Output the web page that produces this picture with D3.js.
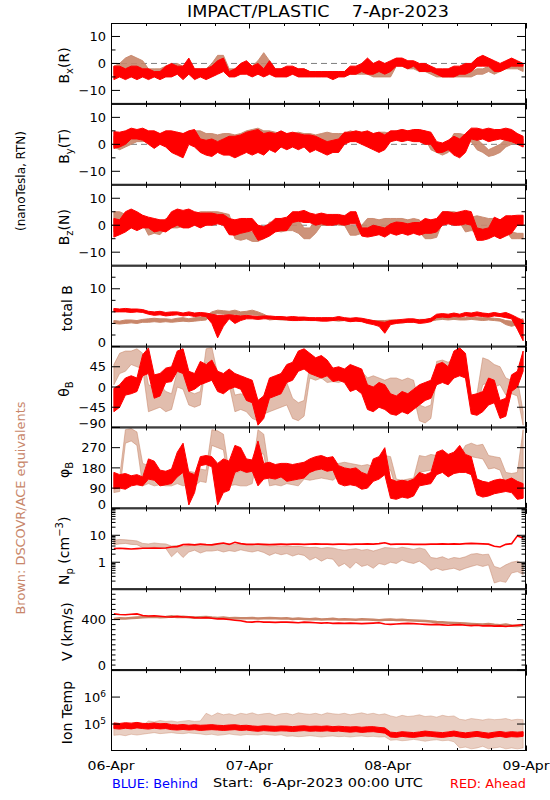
<!DOCTYPE html>
<html><head><meta charset="utf-8">
<script src="https://cdn.jsdelivr.net/npm/d3@7"></script>
<style>body{margin:0;background:#fff}svg{display:block}text{font-family:"DejaVu Sans",sans-serif;white-space:pre}</style>
</head><body><svg id="c" width="550" height="800"></svg>
<script>
// ---------------- DATA (hourly bins, 6-Apr-2023 00:00 UTC to 9-Apr 00:00) ----------------
const startDate = new Date(Date.UTC(2023,3,6,0,0));
const endDate   = new Date(Date.UTC(2023,3,9,0,0));
const xTickLabels = ["06-Apr","07-Apr","08-Apr","09-Apr"];

// Bx (nT): hourly min / max
const bxRedLo = [-6,-5,-6,-5,-6,-5,-6,-5,-6,-5,-5,-4,-6,-4,-6,-5,-6,-5,-4,-3,-5,-5,-4,-4,-5,-4,-5,-4,-5,-5,-5,-4,-5,-5,-5,-5,-5,-5,-6,-5,-5,-4,-4,-3,-4,-4,-3,-4,-3,-1,-1,-2,-1,-3,-3,-3,-4,-5,-5,-5,-4,-4,-3,-1,-1,-1,-3,-3,-2,-1,-1,-1];
const bxRedHi = [-1,-1,-2,-1,-1,-2,-2,-3,-3,-1,0,-1,-1,2,-2,-2,-2,-1,1,2,-3,-2,0,1,-1,0,-2,1,-2,-2,-1,-1,-2,-2,-3,-3,-3,-3,-3,-3,-3,-1,-1,0,2,0,1,0,1,2,2,1,1,0,0,-1,-2,-2,-2,-1,-1,0,0,2,3,2,1,0,1,2,1,0];
const bxBrownLo = [-4,-3,-2,-1,-2,-3,-5,-4,-4,-4,-4,-3,-4,-4,-4,-4,-4,-3,-1,0,-4,-4,-4,-3,-4,-3,-3,-3,-4,-4,-4,-4,-4,-4,-4,-4,-4,-4,-4,-4,-4,-4,-4,-4,-4,-5,-5,-5,-5,-1,-1,-2,-2,-3,-3,-4,-5,-5,-5,-5,-5,-5,-5,-4,-4,-3,-4,-3,-2,-2,-2,-3];
const bxBrownHi = [-1,0,2,3,2,1,-2,-2,-2,-1,-1,0,-1,-1,-2,-2,-2,0,3,3,-2,-2,-1,0,-1,1,4,1,-2,-2,-2,-2,-2,-2,-3,-3,-3,-3,-3,-3,-3,-2,-2,-2,-3,-3,-3,-3,-2,1,1,0,0,-1,-1,-2,-3,-3,-3,-3,-3,-3,-3,-2,-2,-1,-2,-1,0,0,0,-1];

// By (nT)
const byRedLo = [-1.5,-1,0,2,2,1.5,0,-1.5,0,-1,-3,-4,-5,0,-1,-3,-4,-4.5,-3,-4,-4,-5,-4,-3,-4,-3,-4,-2,-3,-1,-2,-1,-2,-1,-3,-2,-3,-4,-3,-3,0,1,1,0,-1,-2,-3,-2,1,1.5,1,1.5,1,1,0,0,-3,-3,-2,-4,-5,-3,2,1.5,2,1,1.5,2,1.5,1,0,-1];
const byRedHi = [4.7,4.5,5,6,5.5,6,5,5,4,5,5,4.5,4,5,5.5,2,1.5,2,1,2,3,3,3.5,4.5,5,5.5,4,4.5,4,5,4,4.5,4,3.5,3.5,3,2,1,1.5,2,4.5,4.5,5,4.5,5,4,4.5,3.5,5,5,5.5,5,5.5,5.5,5,4.5,1,0.5,1.5,3,2,4,6,6,5.5,6,5.5,5.5,6,5.5,4,3];
const byBrownLo = [-1,-2,-1,0,1,1,1.5,1,1,1,1,1,0,1,2,2,1,1,0,1,1,0,1,2,2,2,1,2,1,1,1,0.5,1,1,1,1,0,1,1,0,1,1,1.5,1,1,1,1.5,1,1,3,3,3,3,2.5,2,-2,-3,-4,-3,0,1,0,1,-2,-3,-4.5,-4,-3,-1,0,1,-1];
const byBrownHi = [3,3,4,3,4,4,4,3.5,4,4,4,4.5,4,4,5,5,4,4,3.5,4,4,3.5,4,5,5.5,6,5,5,4.5,4,4,4,4.5,4,4,3.5,4,4.5,4,4,4,5,4.5,4.5,4.5,4,4.5,4.5,4,5,5.5,5,5,5,5,0,-1,-1,0,4,4,3.5,4,2,0,-2,-1,0,2,4,4,2];

// Bz (nT)
const bzRedLo = [-4.4,-3.5,-2.5,-1,-2,-1,-1,-2.5,-2,-2.5,-1,0,-1,-1,0,-1,0,0,0.5,0,-3.5,-3.7,-3,-2.5,-2,-5.6,-5,-4,-2.5,-2,-2,1,1.5,1,1,0,0.5,0,0,0.5,0,0.5,0.5,-4,-4.4,-4,-3.5,-4.4,-3,-3.7,-3,-3.7,-3,-3.7,-3,-3,-2.5,0,0.5,0,0,0.5,0,-5.6,-5.6,-5,-4,-5,-4,-3,0,0];
const bzRedHi = [2.5,2,5,6,5,3.7,3,2.5,2,2,5,6,5.5,6,5,4.5,4.5,4.5,4,4,2.5,2,2.5,2.5,2.5,0,-0.5,0.5,2.5,2.5,3,5,5,5.5,4.5,4,4.5,4,4,4,3.5,5,5,-1,-1,0,-0.5,-1,0.5,1.2,1,0.5,1,1,2.5,2,2.5,5,5,4.5,5,5.5,5,-1,-1.5,-1,3,2,3.5,3.5,3.7,3.7];
const bzBrownLo = [-2.5,-2,-1,0,0,0.5,-3.7,-3,-3.5,-1,-1,-1,-0.5,0,0.5,1,1,1,1.5,1,1,-5,-5.6,-5,-6,-6,-5,-2.5,-2,-2.5,-2,-2,-3,-5,-5,-3,0,0,0.5,0,0,-3.7,-3.7,-3,-1.2,-1,-1,-1.2,-1,-2.5,-2,-2.5,-2,-2.5,-5,-5,-4.5,1,1,1.5,1,-2.5,-2,-2.5,-2,-2.5,-2,-2.5,-2,-5,-5,-5];
const bzBrownHi = [5,5,4,3.7,3.7,3.5,-1,-1,-1,2.5,2.5,2,2.5,3.7,4,5,5,5,5,4.5,4,-2.5,-3,-2.5,-2.5,-3,-2.5,1.2,1,1,1.2,2.5,2,-1,-1,2,3.7,3.7,3.5,3.5,3.7,0,-0.5,0,2.5,2.5,2,2.5,2.5,2.5,2.5,2,2.5,2,-1.2,-1.5,-1,5,5,5,4.5,3.7,3,3.5,3,2.5,2.5,2,2.5,-2.5,-3,-3];

// total B (nT)
const btRedLo = [6.0,6.0,6.0,5.9,6.0,5.9,5.6,5.4,5.5,5.3,5.4,5.5,5.3,5.4,5.2,5.3,5.2,4.0,1.5,3.5,4.8,4.0,4.5,4.8,4.8,4.7,4.8,4.8,4.7,4.7,4.6,4.5,4.5,4.6,4.5,4.5,4.4,4.4,4.5,4.6,4.5,4.3,4.4,4.3,4.0,3.8,3.5,2.3,3.8,4.0,4.1,4.2,4.2,4.0,4.1,4.3,5.0,5.1,5.0,5.2,5.1,5.3,5.2,5.3,5.2,5.1,5.3,5.2,5.0,4.8,3.0,1.0];
const btRedHi = [6.6,6.5,6.6,6.5,6.5,6.4,6.1,6.0,6.1,5.9,6.0,6.0,5.8,6.0,5.8,5.9,5.8,5.6,5.4,5.4,5.5,5.4,5.3,5.4,5.3,5.2,5.3,5.3,5.2,5.2,5.1,5.2,5.1,5.1,5.0,5.0,5.0,5.0,5.0,5.2,5.0,4.9,5.0,4.9,4.7,4.5,4.3,4.2,4.5,4.6,4.7,4.8,4.8,4.6,4.7,4.9,5.6,5.7,5.6,5.8,5.6,5.9,5.8,6.0,5.8,5.7,5.9,5.7,5.9,5.5,5.0,4.5];
const btBrownLo = [4.0,3.9,4.0,4.1,4.0,4.2,4.2,4.3,4.2,4.3,4.2,4.3,4.4,4.3,4.4,4.5,4.6,5.5,5.7,5.6,5.5,5.6,5.4,5.5,5.5,5.4,5.0,4.6,4.7,4.6,4.6,4.5,4.6,4.5,4.6,4.5,4.5,4.6,4.5,4.4,4.5,4.4,4.5,4.4,4.2,4.1,4.0,4.1,4.1,4.2,4.1,4.2,4.2,4.3,4.3,4.4,4.6,4.7,4.6,4.7,4.6,4.6,4.7,4.6,4.5,4.6,4.5,4.4,3.8,3.5,3.8,4.0];
const btBrownHi = [4.5,4.4,4.6,4.6,4.5,4.7,4.8,4.9,4.8,4.8,4.7,4.9,5.0,4.8,5.0,5.1,5.3,6.0,6.3,6.2,6.1,6.3,6.0,6.1,6.3,6.0,5.6,5.1,5.1,5.0,5.0,5.0,5.0,4.9,5.0,4.9,4.9,5.0,4.9,4.8,4.9,4.8,4.9,4.8,4.6,4.5,4.5,4.5,4.6,4.6,4.5,4.6,4.6,4.7,4.7,4.8,5.0,5.1,5.0,5.1,5.0,5.0,5.1,5.0,5.0,5.0,4.9,4.8,4.5,4.4,4.6,4.8];

// theta_B (deg)
const thRedLo = [-55,-45,-18,-15,-10,25,30,-25,-20,10,12,35,30,-10,-5,5,10,15,-10,-15,-5,0,-5,-30,-35,-85,-70,-25,-20,-15,10,15,35,40,30,25,20,25,12,15,10,-10,-5,-15,-50,-55,-45,-50,-60,-63,-55,-60,-50,-40,-30,-25,5,10,5,20,25,20,-60,-63,-55,-40,-35,-70,-65,-10,0,35];
const thRedHi = [-3,5,20,25,20,72,87,27,30,42,45,80,85,35,30,57,50,60,35,30,40,30,25,20,15,-30,-20,20,25,30,50,55,80,85,75,65,70,60,42,45,40,50,45,40,5,0,10,5,-15,-20,-10,-15,-5,5,10,15,50,55,45,80,87,75,-18,-15,-10,20,15,-30,-25,27,35,80];
const thBrownLo = [5,30,35,50,45,40,-55,-50,-45,-55,-50,0,-5,-40,-45,-40,55,50,0,-5,5,-55,-50,-55,-70,-75,-60,-55,-50,-45,-40,-70,-75,-65,20,15,20,10,12,10,15,5,0,5,-15,-10,-15,-10,-15,-25,-20,-25,-20,-75,-80,-70,20,25,20,30,25,30,-50,-45,5,10,0,5,-18,-15,-20,-85];
const thBrownHi = [50,75,80,80,85,75,5,0,5,-10,-15,35,30,-10,-15,-10,85,88,30,25,35,-18,-15,-20,-25,-30,-20,5,0,5,10,-25,-35,-30,50,45,50,35,40,35,40,35,40,35,20,25,20,15,20,20,15,20,15,-40,-45,-40,57,60,55,65,60,65,-20,-15,65,60,50,45,20,15,18,-55];

// phi_B (deg)
const phRedLo = [87,90,85,100,105,100,130,125,100,105,110,140,160,15,70,190,195,185,15,70,80,160,170,160,165,100,130,135,130,140,120,125,130,135,160,170,175,165,170,110,100,105,100,85,90,120,130,150,45,40,50,45,55,100,105,110,150,160,140,155,160,160,150,60,50,55,65,70,75,70,40,45];
const phRedHi = [160,150,155,145,150,140,220,210,170,165,175,250,290,160,150,230,235,230,200,220,210,280,270,220,215,300,200,205,195,200,200,195,200,205,220,230,235,225,230,190,180,175,180,160,150,220,230,270,130,120,125,120,130,160,150,160,250,260,240,250,280,240,230,130,120,115,125,130,125,135,120,110];
const phBrownLo = [70,75,290,300,280,100,110,100,105,100,100,110,100,105,100,120,115,280,270,260,100,105,100,100,110,250,240,100,105,100,110,105,100,130,125,130,135,130,125,145,140,150,145,130,135,130,140,175,170,85,90,85,90,160,165,170,160,190,195,185,190,220,230,225,220,175,180,170,100,105,100,110];
const phBrownHi = [150,140,350,355,340,200,190,160,155,165,160,170,160,165,160,175,170,350,345,330,160,155,165,160,165,350,330,160,155,160,165,160,155,190,185,190,195,185,190,200,205,200,195,190,195,185,190,235,230,130,125,130,135,235,230,240,235,235,240,230,235,280,290,280,285,235,230,225,160,155,160,350];

// Np (cm^-3)
const npRed = [3.2,3.3,3.2,3.1,3.2,3.3,3.3,3.4,3.3,3.4,3.7,3.8,4.5,4.6,4.4,4.7,4.5,4.4,4.8,5.2,4.6,5.5,4.9,4.6,4.6,4.7,4.6,4.5,4.6,4.7,4.6,4.7,4.7,4.6,4.7,4.8,4.7,4.7,4.6,4.7,4.7,4.6,4.7,4.7,4.8,4.7,4.9,5.3,4.6,4.7,4.7,4.7,4.6,4.6,4.6,4.7,4.7,4.8,4.7,4.8,4.7,4.9,5.0,4.9,4.8,4.7,3.9,3.7,4.6,4.9,9.5,8.0];
const npBrownLo = [4.5,4.8,5,4.6,4.5,3.5,3.4,3.6,3.4,3.3,1.6,2.5,1.5,2.4,2.8,2.2,2.6,2.6,2.8,2.4,2.7,2.5,2.9,2.6,2.4,2.7,2.3,1.8,2.2,1.9,2.1,1.7,2,1.8,1.2,1.5,1.1,1.4,1.3,0.7,0.9,0.6,1,0.7,0.8,0.6,0.9,0.8,1,0.9,1.2,1,0.9,1.1,0.8,0.5,0.6,0.5,0.55,0.6,0.5,0.6,0.7,0.8,0.7,0.8,0.17,0.2,0.18,0.4,0.45,0.35];
const npBrownHi = [6.5,7,6.8,6.5,6.2,5,4.8,5.2,4.9,4.8,4,4.2,3.8,4.1,4.5,4,4.3,4.6,4.9,4.5,4.8,4.6,5,4.6,4.5,4.7,4.4,4,4.2,3.8,4.1,3.9,4,3.7,3.5,3.6,3.3,3.5,3.4,3,2.8,3,3.2,2.8,3,2.6,3,3.5,3.4,3.2,3.6,3.3,3,3.4,3,1.5,1.4,1.6,1.3,1.5,1.4,1.6,2,2.1,1.9,2,0.7,0.6,0.8,1,1.1,0.9];

// V (km/s)
const vRed = [445,440,438,442,445,432,428,430,426,422,420,425,420,420,415,412,415,410,405,405,400,395,390,382,380,385,380,380,378,380,380,378,375,380,378,375,372,375,370,372,370,372,370,368,370,372,375,365,362,365,368,370,368,365,362,360,362,358,355,358,360,355,352,355,350,352,348,350,345,350,355,360];
const vBrown = [405,410,408,412,415,418,420,422,418,420,425,420,422,418,415,418,420,415,412,415,410,412,410,410,412,408,410,412,410,408,410,405,408,405,402,405,400,402,405,400,402,400,398,402,400,398,395,398,400,396,398,395,392,390,388,385,380,378,375,372,370,368,365,362,360,365,358,355,360,352,350,355];

// Ion temperature (K)
const tRedLo = [68e3,65e3,70e3,66e3,72e3,68e3,65e3,70e3,66e3,68e3,62e3,60e3,63e3,60e3,62e3,58e3,60e3,62e3,60e3,58e3,60e3,62e3,58e3,60e3,56e3,54e3,57e3,55e3,54e3,56e3,55e3,53e3,55e3,57e3,54e3,55e3,54e3,56e3,53e3,55e3,52e3,50e3,52e3,49e3,51e3,52e3,49e3,46e3,33e3,32e3,35e3,33e3,32e3,34e3,36e3,35e3,33e3,32e3,34e3,36e3,33e3,31e3,33e3,35e3,32e3,30e3,33e3,35e3,32e3,34e3,33e3,35e3];
const tRedHi = [110e3,105e3,112e3,108e3,115e3,106e3,104e3,110e3,102e3,105e3,95e3,92e3,96e3,90e3,94e3,90e3,92e3,95e3,90e3,88e3,92e3,94e3,88e3,90e3,85e3,82e3,86e3,84e3,82e3,85e3,84e3,80e3,84e3,86e3,82e3,84e3,82e3,85e3,80e3,83e3,80e3,78e3,80e3,76e3,79e3,80e3,75e3,72e3,50e3,48e3,52e3,50e3,48e3,51e3,55e3,52e3,50e3,48e3,51e3,55e3,50e3,47e3,50e3,53e3,49e3,46e3,50e3,53e3,49e3,52e3,50e3,52e3];
const tBrownLo = [38e3,40e3,37e3,42e3,39e3,42e3,45e3,48e3,44e3,46e3,48e3,45e3,44e3,47e3,45e3,43e3,40e3,42e3,38e3,40e3,43e3,40e3,38e3,41e3,40e3,39e3,42e3,40e3,38e3,40e3,35e3,36e3,34e3,35e3,37e3,35e3,33e3,35e3,36e3,34e3,35e3,33e3,35e3,36e3,34e3,35e3,33e3,34e3,25e3,26e3,24e3,25e3,27e3,25e3,23e3,25e3,26e3,24e3,25e3,22e3,13e3,14e3,12e3,13e3,15e3,12e3,13e3,14e3,12e3,13e3,12e3,13e3];
const tBrownHi = [80e3,78e3,85e3,80e3,82e3,88e3,130e3,120e3,135e3,125e3,130e3,120e3,128e3,135e3,125e3,130e3,250e3,200e3,260e3,220e3,240e3,210e3,250e3,230e3,260e3,220e3,240e3,250e3,210e3,240e3,250e3,220e3,260e3,240e3,230e3,250e3,220e3,260e3,240e3,230e3,250e3,220e3,240e3,260e3,230e3,250e3,220e3,240e3,200e3,180e3,210e3,190e3,200e3,220e3,190e3,200e3,180e3,210e3,190e3,200e3,150e3,140e3,160e3,150e3,140e3,155e3,145e3,150e3,160e3,140e3,150e3,145e3];

// ---------------- DRAWING ----------------
const RED = "#ff0000", BROWN = "#c8866a", GRID = "#7f7f7f";
const L = 111, R = 526, TOP = 23, BOT = 751;
const NP = 9, PH = (BOT - TOP) / NP;
const svg = d3.select("#c");
const x = d3.scaleUtc().domain([startDate, endDate]).range([L, R]);
const tAt = h => new Date(startDate.getTime() + h * 3600e3);

// hourly min..max ribbon, vertices at bin centres
function band(lo, hi) { return lo.map((v, i) => ({t: tAt(i + 0.5), lo: v, hi: hi[i]})); }
function mids(arr) { return arr.map((v, i) => [tAt(i + 0.5), v]); }

const panels = [
  {lab:[["B"],["x","sub"],["(R)"]], type:"lin", dom:[-15,15], major:[-10,0,10], minor:[-5,5], labels:[-10,0,10], zero:true,
   series:[{band:band(bxBrownLo,bxBrownHi),c:BROWN,op:0.9},{band:band(bxRedLo,bxRedHi),c:RED}]},
  {lab:[["B"],["y","sub"],["(T)"]], type:"lin", dom:[-15,15], major:[-10,0,10], minor:[-5,5], labels:[-10,0,10], zero:true,
   series:[{band:band(byBrownLo,byBrownHi),c:BROWN,op:0.9},{band:band(byRedLo,byRedHi),c:RED}]},
  {lab:[["B"],["z","sub"],["(N)"]], type:"lin", dom:[-15,15], major:[-10,0,10], minor:[-5,5], labels:[-10,0,10], zero:true,
   series:[{band:band(bzBrownLo,bzBrownHi),c:BROWN,op:0.9},{band:band(bzRedLo,bzRedHi),c:RED}]},
  {lab:[["total B"]], type:"lin", dom:[0,14], major:[0,10], minor:[2,4,6,8,12], labels:[0,10],
   series:[{band:band(btBrownLo,btBrownHi),c:BROWN},{band:band(btRedLo,btRedHi),c:RED}]},
  {lab:[["θ"],["B","sub"]], type:"lin", dom:[-90,90], major:[-90,-45,0,45,90], minor:[], labels:[-90,-45,0,45],
   series:[{band:band(thBrownLo,thBrownHi),c:BROWN,op:0.55},{band:band(thRedLo,thRedHi),c:RED}]},
  {lab:[["φ"],["B","sub"]], type:"lin", dom:[0,360], major:[0,90,180,270,360], minor:[], labels:[0,90,180,270],
   series:[{band:band(phBrownLo,phBrownHi),c:BROWN,op:0.55},{band:band(phRedLo,phRedHi),c:RED}]},
  {lab:[["N"],["p","sub"],[" (cm"],["−3","sup"],[")"]], type:"log", dom:[0.1,100], major:[1,10], minorLog:true, labels:[1,10],
   series:[{band:band(npBrownLo,npBrownHi),c:BROWN,op:0.5},{line:mids(npRed),c:RED,w:1.6}]},
  {lab:[["V (km/s)"]], type:"lin", dom:[0,640], major:[0,400], minor:d3.range(40,640,40).filter(v=>v!==400), labels:[0,400],
   series:[{line:mids(vBrown),c:BROWN,w:2.6},{line:mids(vRed),c:RED,w:1.6}]},
  {lab:[["Ion Temp"]], type:"log", dom:[1e4,1e7], major:[1e5,1e6], minorLog:false, labels:[1e5,1e6], sup:true,
   series:[{band:band(tBrownLo,tBrownHi),c:BROWN,op:0.4},{band:band(tRedLo,tRedHi),c:RED}]}
];

const defs = svg.append("defs");
const xTicks = x.ticks(d3.utcHour.every(6));

panels.forEach((p, i) => {
  const y0 = TOP + i * PH, y1 = y0 + PH;
  const y = (p.type === "log" ? d3.scaleLog() : d3.scaleLinear()).domain(p.dom).range([y1, y0]);
  const g = svg.append("g");
  defs.append("clipPath").attr("id", "cp" + i).append("rect")
    .attr("x", L).attr("y", y0).attr("width", R - L).attr("height", PH);
  const dg = g.append("g").attr("clip-path", `url(#cp${i})`);
  if (p.zero) {
    dg.append("line").attr("x1", L).attr("x2", R).attr("y1", y(0)).attr("y2", y(0))
      .attr("stroke", GRID).attr("stroke-width", 1).attr("stroke-dasharray", "6,4");
  }
  const line = d3.line().x(d => x(d[0])).y(d => y(d[1]));
  const area = d3.area().x(d => x(d.t)).y0(d => y(d.lo)).y1(d => y(d.hi));
  p.series.forEach(s => {
    if (s.band) {
      dg.append("path").attr("d", area(s.band)).attr("fill", s.c).attr("fill-opacity", s.op || 1)
        .attr("stroke", s.c).attr("stroke-opacity", s.op || 1).attr("stroke-width", 1).attr("stroke-linejoin", "round");
    } else {
      dg.append("path").attr("d", line(s.line)).attr("fill", "none").attr("stroke", s.c)
        .attr("stroke-width", s.w);
    }
  });
  // frame
  g.append("rect").attr("x", L + 0.5).attr("y", y0 + 0.5).attr("width", R - L - 1).attr("height", PH - 1)
    .attr("fill", "none").attr("stroke", "#000").attr("stroke-width", 1);
  // x ticks (top & bottom)
  xTicks.forEach(t => {
    const isDay = t.getUTCHours() === 0;
    const len = isDay ? 5.5 : 3;
    const xx = Math.round(x(t)) + 0.5;
    g.append("line").attr("x1", xx).attr("x2", xx).attr("y1", y1).attr("y2", y1 - len).attr("stroke", "#000");
    g.append("line").attr("x1", xx).attr("x2", xx).attr("y1", y0).attr("y2", y0 + len).attr("stroke", "#000");
  });
  // y ticks
  let minors = p.minor || [];
  if (p.minorLog) {
    minors = [];
    for (let e = Math.log10(p.dom[0]); e < Math.log10(p.dom[1]); e++)
      for (let k = 2; k <= 9; k++) minors.push(k * Math.pow(10, e));
  }
  const tick = (v, len) => {
    const yy = y(v);
    g.append("line").attr("x1", L).attr("x2", L + len).attr("y1", yy).attr("y2", yy).attr("stroke", "#000");
    g.append("line").attr("x1", R).attr("x2", R - len).attr("y1", yy).attr("y2", yy).attr("stroke", "#000");
  };
  p.major.forEach(v => tick(v, 9));
  minors.forEach(v => tick(v, 4.5));
  // y labels
  p.labels.forEach(v => {
    let yy = y(v);
    yy = Math.min(yy, y1 - 4.5);
    const t = g.append("text").attr("x", 106).attr("y", yy).attr("dy", "0.36em")
      .attr("text-anchor", "end").attr("font-size", 13).attr("fill", "#000");
    if (p.sup) {
      t.append("tspan").text("10");
      t.append("tspan").attr("dy", "-0.5em").attr("font-size", 9).text(String(Math.round(Math.log10(v))));
    } else {
      t.text(String(v).replace("-", "−"));
    }
  });
  // panel label
  const hasSub = p.lab.some(s => s[1] === "sub");
  const lt = g.append("text").attr("transform", `translate(${hasSub ? 69 : 72},${(y0 + y1) / 2 + 2}) rotate(-90)`)
    .attr("text-anchor", "middle").attr("font-size", 14).attr("fill", "#000");
  let shift = 0;
  p.lab.forEach(s => {
    const ts = lt.append("tspan").text(s[0]);
    if (s[1] === "sub") { ts.attr("dy", 4 - shift).attr("font-size", 10); shift = 4; }
    else if (s[1] === "sup") { ts.attr("dy", -6 - shift).attr("font-size", 10); shift = -6; }
    else if (shift !== 0) { ts.attr("dy", -shift); shift = 0; }
  });
});

// x tick labels
xTickLabels.forEach((lab, i) => {
  svg.append("text").attr("x", x(tAt(i * 24))).attr("y", 770).attr("text-anchor", "middle")
    .attr("font-size", 13).attr("textLength", 47).attr("lengthAdjust", "spacingAndGlyphs").text(lab);
});

// titles / annotations
svg.append("text").attr("x", 318).attr("y", 17).attr("text-anchor", "middle").attr("font-size", 16)
  .attr("textLength", 262).attr("lengthAdjust", "spacingAndGlyphs").text("IMPACT/PLASTIC    7-Apr-2023");
svg.append("text").attr("transform", "translate(25,181) rotate(-90)").attr("text-anchor", "middle")
  .attr("font-size", 12).attr("textLength", 100).attr("lengthAdjust", "spacingAndGlyphs").text("(nanoTesla, RTN)");
svg.append("text").attr("transform", "translate(25,508) rotate(-90)").attr("text-anchor", "middle")
  .attr("font-size", 13).attr("fill", BROWN).attr("textLength", 213).attr("lengthAdjust", "spacingAndGlyphs")
  .text("Brown: DSCOVR/ACE equivalents");
svg.append("text").attr("x", 112).attr("y", 788).attr("font-size", 13).attr("fill", "#0000ff")
  .attr("textLength", 86).attr("lengthAdjust", "spacingAndGlyphs").text("BLUE: Behind");
svg.append("text").attr("x", 213).attr("y", 787).attr("font-size", 13).attr("fill", "#000")
  .attr("textLength", 210).attr("lengthAdjust", "spacingAndGlyphs").text("Start:  6-Apr-2023 00:00 UTC");
svg.append("text").attr("x", 450).attr("y", 788).attr("font-size", 13).attr("fill", RED)
  .attr("textLength", 76).attr("lengthAdjust", "spacingAndGlyphs").text("RED: Ahead");
</script></body></html>
